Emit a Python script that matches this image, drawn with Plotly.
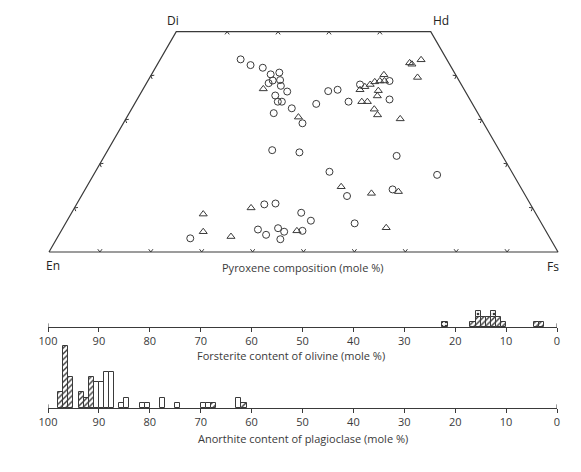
import math
import plotly.graph_objects as go

# ---------------- data ----------------
# Pyroxene compositions (mole %): Wo and Fs components (En = 100 - Wo - Fs)
circle_wo = [43.7, 42.4, 41.8, 40.3, 40.7, 38.9, 39.0, 38.3, 37.7, 36.4, 35.5, 34.1, 34.1,
             32.6, 31.5, 29.2, 23.1, 22.6, 38.8, 38.0, 36.8, 36.5, 34.6, 34.1, 33.6, 21.8,
             18.2, 17.5, 12.7, 14.2, 8.9, 7.1, 4.8, 6.5, 3.1, 10.8, 11.0, 5.1, 3.9, 5.4,
             4.6, 2.9]
circle_fs = [15.8, 18.4, 21.1, 23.4, 24.9, 24.5, 25.9, 24.0, 26.7, 28.6, 26.7, 27.9, 28.7,
             31.4, 28.4, 35.2, 32.3, 37.9, 47.5, 42.1, 38.3, 36.6, 49.6, 41.8, 35.7, 57.4,
             46.0, 67.5, 52.2, 60.4, 45.1, 47.9, 47.4, 56.8, 26.2, 36.9, 39.0, 38.5, 40.7,
             42.3, 43.9, 44.0]
tri_wo = [37.0, 30.6, 42.9, 42.6, 43.6, 39.6, 40.2, 38.6, 38.8, 38.8, 38.0, 36.8, 37.5,
          36.6, 35.4, 34.1, 34.1, 32.4, 31.1, 30.2, 14.8, 13.3, 13.7, 4.8, 5.5, 8.6, 4.6,
          3.5, 10.0]
tri_fs = [23.6, 33.7, 49.4, 50.0, 51.3, 52.6, 45.7, 44.7, 45.6, 46.5, 44.1, 42.7, 43.3,
          46.4, 46.8, 44.4, 45.5, 47.7, 49.0, 53.9, 50.0, 56.7, 61.8, 46.3, 63.5, 26.0, 28.0,
          34.0, 34.7]

# Olivine: forsterite content (1 mole % bins), number of samples
ol_fo = [22.0, 16.5, 15.5, 14.5, 13.5, 12.5, 11.5, 10.5, 4.0, 3.0]
ol_hatched = [0, 1, 2, 2, 2, 2, 2, 1, 1, 1]
ol_dotted = [1, 0, 1, 0, 0, 1, 0, 0, 0, 0]

# Plagioclase: anorthite content (1 mole % bins), number of samples
pl_an = [97.5, 96.5, 95.5, 93.5, 92.5, 91.5, 90.5, 89.5, 88.5, 87.5, 85.5, 84.5,
         81.5, 80.5, 77.5, 74.5, 69.5, 68.5, 67.5, 62.5, 61.5]
pl_hatched = [3, 12, 6, 3, 2, 6, 0, 0, 0, 0, 0, 0, 0, 0, 0, 0, 0, 0, 1, 0, 1]
pl_open = [0, 0, 0, 0, 0, 0, 5, 5, 7, 7, 1, 2, 1, 1, 2, 1, 1, 1, 0, 2, 0]

scale_vals = [100, 90, 80, 70, 60, 50, 40, 30, 20, 10, 0]
scale_text = ["100", "90", "80", "70", "60", "50", "40", "30", "20", "10", "0"]

# ---------------- styling / geometry ----------------
W, H = 581, 472
OFF = 8           # page margin around the figure div
S = 5.09          # px per mole %
X0, Y0 = 49, 252  # screen position of En corner
INK = "#3a3a3a"
FONT = "Open Sans"
R3 = math.sqrt(3) / 2


def px(x):
    return (x - OFF) / W


def py(y):
    return 1 - (y - OFF) / H


def to_xy(wo, fs):
    return fs + wo / 2.0, wo * R3


fig = go.Figure()

# quadrilateral outline En-Fs-Hd-Di
corners = [(0, 0), (0, 100), (50, 50), (50, 0), (0, 0)]
qx, qy = zip(*[to_xy(w, f) for w, f in corners])
fig.add_trace(go.Scatter(x=qx, y=qy, mode="lines", line=dict(color=INK, width=1.2),
                         hoverinfo="skip", xaxis="x", yaxis="y"))

# chevron ticks pointing outward at every 10 mole %
edges = []
edges += [((0, f), (0, -1), (1, 0)) for f in range(10, 100, 10)]           # En-Fs
edges += [((50, f), (0, 1), (1, 0)) for f in range(10, 50, 10)]           # Di-Hd
edges += [((w, 0), (-R3, 0.5), (0.5, R3)) for w in range(10, 50, 10)]     # En-Di
edges += [((w, 100 - w), (R3, 0.5), (-0.5, R3)) for w in range(10, 50, 10)]  # Fs-Hd
cx, cy = [], []
for (w, f), n, t in edges:
    x, y = to_xy(w, f)
    d, h = 0.55, 0.42
    cx += [x - d * n[0] + h * t[0], x, x - d * n[0] - h * t[0], None]
    cy += [y - d * n[1] + h * t[1], y, y - d * n[1] - h * t[1], None]
fig.add_trace(go.Scatter(x=cx, y=cy, mode="lines", line=dict(color=INK, width=1),
                         hoverinfo="skip", xaxis="x", yaxis="y"))

cxy = [to_xy(w, f) for w, f in zip(circle_wo, circle_fs)]
fig.add_trace(go.Scatter(x=[p[0] for p in cxy], y=[p[1] for p in cxy], mode="markers",
                         marker=dict(symbol="circle-open", size=7, color=INK, line=dict(width=1)),
                         xaxis="x", yaxis="y"))
txy = [to_xy(w, f) for w, f in zip(tri_wo, tri_fs)]
fig.add_trace(go.Scatter(x=[p[0] for p in txy], y=[p[1] for p in txy], mode="markers",
                         marker=dict(symbol="triangle-up-open", size=7, color=INK, line=dict(width=1)),
                         xaxis="x", yaxis="y"))


def add_bars(xs, base, vals, shape, xa, ya):
    sel = [(x, b, v) for x, b, v in zip(xs, base, vals) if v > 0]
    if not sel:
        return
    fig.add_trace(go.Bar(
        x=[s[0] for s in sel], y=[s[2] for s in sel], base=[s[1] for s in sel], width=1,
        marker=dict(color="white", line=dict(color=INK, width=1),
                    pattern=dict(shape=shape, fgcolor=INK, bgcolor="white", size=4,
                                 solidity=0.35, fillmode="replace")),
        xaxis=xa, yaxis=ya, hoverinfo="skip"))


zeros_ol = [0] * len(ol_fo)
add_bars(ol_fo, zeros_ol, ol_hatched, "/", "x2", "y2")
add_bars(ol_fo, ol_hatched, ol_dotted, ".", "x2", "y2")
zeros_pl = [0] * len(pl_an)
add_bars(pl_an, zeros_pl, pl_hatched, "/", "x3", "y3")
add_bars(pl_an, pl_hatched, pl_open, "", "x3", "y3")

UNIT = 5.2  # px per sample in histograms

hist_x = dict(domain=[px(48), px(557)], range=[100, 0], showline=True, linecolor=INK,
              linewidth=1.3, ticks="outside", ticklen=4, tickwidth=1, tickcolor=INK,
              tickvals=scale_vals, ticktext=scale_text, showgrid=False, zeroline=False,
              tickfont=dict(family=FONT, size=11, color=INK), fixedrange=True,
              automargin=False)
hidden = dict(visible=False, fixedrange=True, automargin=False, showgrid=False, zeroline=False)

fig.update_layout(
    template="none",
    width=W, height=H, margin=dict(l=0, r=0, t=0, b=0, pad=0), autosize=False,
    paper_bgcolor="white", plot_bgcolor="rgba(0,0,0,0)", showlegend=False,
    barmode="overlay", bargap=0,
    xaxis=dict(domain=[0, 1], range=[-(X0 - OFF) / S, (W + OFF - X0) / S], **hidden),
    yaxis=dict(domain=[py(290), 1], range=[(Y0 - 290) / S, (Y0 - OFF) / S], **hidden),
    xaxis2=dict(anchor="y2", **hist_x),
    yaxis2=dict(domain=[py(327), py(300)], range=[0, 27 / UNIT], **hidden),
    xaxis3=dict(anchor="y3", **hist_x),
    yaxis3=dict(domain=[py(408), py(335)], range=[0, 73 / UNIT], **hidden),
)

# small end marks on the histogram scales
for xa, ya in (("x2", "y2"), ("x3", "y3")):
    for v in (scale_vals[0], scale_vals[-1]):
        fig.add_shape(type="line", xref=xa, yref=ya, x0=v, x1=v, y0=0, y1=0.7,
                      line=dict(color=INK, width=1))

lab = dict(family=FONT, size=11, color=INK)
vlab = dict(family=FONT, size=12, color="#222")
for text, xp, yp in (("Pyroxene composition (mole %)", 303, 267),
                     ("Forsterite content of olivine (mole %)", 291, 355),
                     ("Anorthite content of plagioclase (mole %)", 303, 438)):
    fig.add_annotation(text=text, x=px(xp), y=py(yp), xref="paper", yref="paper",
                       xanchor="center", yanchor="middle", showarrow=False, font=lab)

for name, (w, f), dx, dy in (("Di", (50, 0), -3, 11), ("Hd", (50, 50), 10, 11),
                             ("En", (0, 0), 4, -13), ("Fs", (0, 100), -5, -14)):
    x, y = to_xy(w, f)
    fig.add_annotation(text=name, x=x, y=y, xref="x", yref="y", xshift=dx, yshift=dy,
                       xanchor="center", yanchor="middle", showarrow=False, font=vlab)

fig.write_html("out.html")
